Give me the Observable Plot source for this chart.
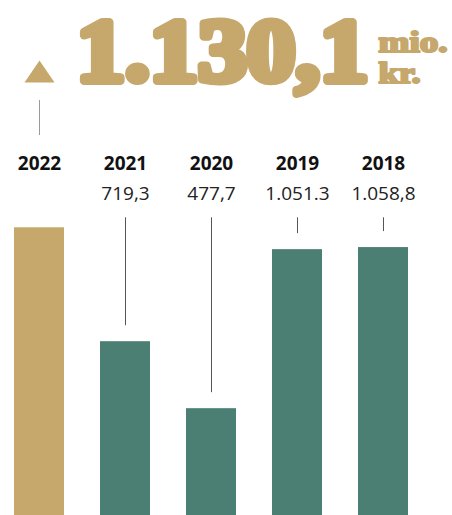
<!DOCTYPE html>
<html>
<head>
<meta charset="utf-8">
<script src="https://cdn.jsdelivr.net/npm/d3@7"></script>
<script src="https://cdn.jsdelivr.net/npm/@observablehq/plot@0.6"></script>
<style>
  html, body { margin: 0; padding: 0; background: #fff; }
  #chart { width: 452px; height: 515px; overflow: hidden; }
</style>
</head>
<body>
<div id="chart"></div>
<script>
// ---- data ----
const years = ["2022", "2021", "2020", "2019", "2018"];
const values = [1130.1, 719.3, 477.7, 1051.3, 1058.8];
const valueLabels = ["", "719,3", "477,7", "1.051.3", "1.058,8"];
const headline = "1.130,1";
const unitLines = ["mio.", "kr."];
const highlightYear = "2022";

// ---- styles ----
const gold = "#c6a76c";
const green = "#4b7f73";
const serif = "'Liberation Serif', serif";
const sans = "'Open Sans', sans-serif";

const data = years.map((y, i) => ({
  year: y, value: values[i], label: valueLabels[i], current: y === highlightYear
}));
const maxValue = d3.max(values);
const others = data.filter(d => !d.current);

const plot = Plot.plot({
  width: 452,
  height: 515,
  margin: 0,
  x: { domain: years, range: [13, 408], paddingInner: 0.42, paddingOuter: 0, axis: null },
  y: { domain: [92.4, maxValue], range: [515, 227.3], clamp: true, axis: null },
  marks: [
    Plot.barY(data, { x: "year", y: "value", fill: d => d.current ? gold : green }),
    // leader lines
    Plot.ruleX(others, { x: "year", y1: () => maxValue, y2: "value", stroke: "#555", strokeWidth: 1, insetTop: -10, insetBottom: 16 }),
    // line under the triangle
    Plot.ruleX([highlightYear], { x: d => d, stroke: "#9a9a9a", strokeWidth: 1, insetTop: 100, insetBottom: 380 }),
    // triangle
    Plot.dot([highlightYear], {
      x: d => d, frameAnchor: "top", dy: 71, fill: gold, stroke: null,
      symbol: { draw(ctx) { ctx.moveTo(0, -11); ctx.lineTo(15, 11); ctx.lineTo(-15, 11); ctx.closePath(); } },
      r: 10
    }),
    // year labels
    Plot.text(data, { x: "year", text: "year", frameAnchor: "top", dy: 169, lineAnchor: "bottom",
      fontFamily: sans, fontWeight: "bold", fontSize: 19, fill: "#111" }),
    // value labels
    Plot.text(others, { x: "year", text: "label", frameAnchor: "top", dy: 199, lineAnchor: "bottom",
      fontFamily: sans, fontSize: 19, fill: "#222" }),
    // headline
    Plot.text([headline], { text: d => d, frameAnchor: "top-left", dx: 76, dy: 79, lineAnchor: "bottom",
      textAnchor: "start", fontFamily: serif, fontWeight: "bold", fontSize: 88,
      fill: gold, stroke: gold, strokeWidth: 8, strokeLinejoin: "round" }),
    Plot.text([unitLines[0]], { text: d => d, frameAnchor: "top-left", dx: 378, dy: 51, lineAnchor: "bottom",
      textAnchor: "start", fontFamily: serif, fontWeight: "bold", fontSize: 29,
      fill: gold, stroke: gold, strokeWidth: 2.2, strokeLinejoin: "round" }),
    Plot.text([unitLines[1]], { text: d => d, frameAnchor: "top-left", dx: 378, dy: 82, lineAnchor: "bottom",
      textAnchor: "start", fontFamily: serif, fontWeight: "bold", fontSize: 29,
      fill: gold, stroke: gold, strokeWidth: 2.2, strokeLinejoin: "round" })
  ]
});

document.getElementById("chart").appendChild(plot);

// stretch the display type to the reference widths
const fit = (content, len) => {
  plot.querySelectorAll("text").forEach(t => {
    if (t.textContent === content) {
      t.setAttribute("textLength", len);
      t.setAttribute("lengthAdjust", "spacingAndGlyphs");
    }
  });
};
fit(headline, 292);
fit(unitLines[0], 69);
fit(unitLines[1], 42);
</script>
</body>
</html>
